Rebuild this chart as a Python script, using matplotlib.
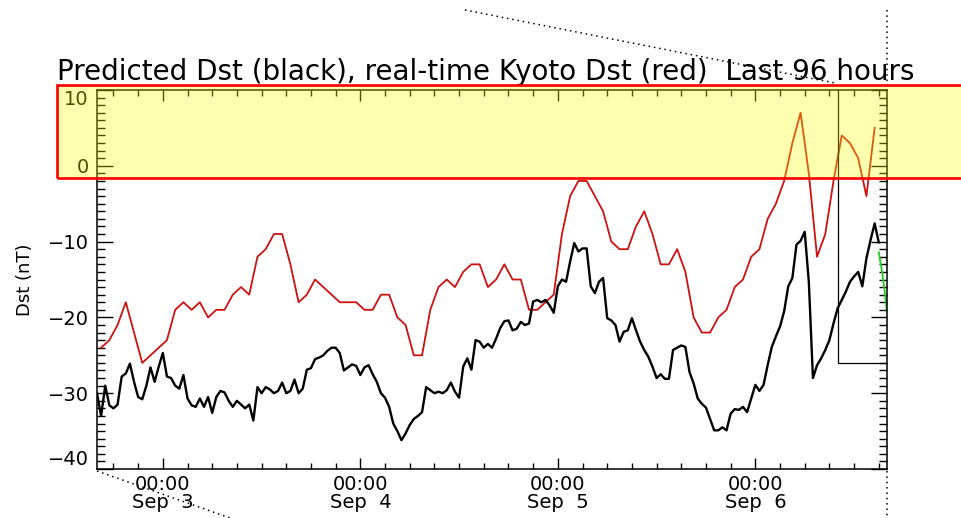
import matplotlib
matplotlib.use("Agg")
import matplotlib.pyplot as plt
import matplotlib.patches as patches
from matplotlib.lines import Line2D
from matplotlib.ticker import MultipleLocator
import numpy as np

# hours counted from Sep 2 16:00 UT, 96 hour window
window_hours = 96
midnight_hours = [8, 32, 56, 80]
midnight_labels = ["00:00\nSep  3", "00:00\nSep  4", "00:00\nSep  5", "00:00\nSep  6"]

# real-time Kyoto Dst, hourly values (nT), centred on the half hour
kyoto_dst = [
    -24, -23, -21, -18, -22, -26, -25, -24, -23, -19,
    -18, -19, -18, -20, -19, -19, -17, -16, -17, -12,
    -11, -9, -9, -13, -18, -17, -15, -16, -17, -18,
    -18, -18, -19, -19, -17, -17, -20, -21, -25, -25,
    -19, -16, -15, -16, -14, -13, -13, -16, -15, -13,
    -15, -15, -19, -19, -18, -17, -9, -4, -2, -2,
    -4, -6, -10, -11, -11, -8, -6, -9, -13, -13,
    -11, -14, -20, -22, -22, -20, -19, -16, -15, -12,
    -11, -7, -5, -2, 3, 7, -1, -12, -9, -2,
    4, 3, 1, -4, 5,
]

# predicted Dst, every half hour (nT)
predicted_dst = [
    -30, -33, -29, -31.6, -32, -31.5, -27.8, -27.4, -26.1, -28.5,
    -30.5, -30.8, -29, -26.6, -28.5, -26.5, -24.7, -27.8, -28, -29,
    -29.4, -27.6, -30.7, -31.6, -31.8, -30.7, -31.8, -30.5, -32.6, -30.5,
    -29.7, -29.9, -31, -31.8, -31, -31.5, -32, -31.5, -33.6, -29.2,
    -30, -29.2, -29.5, -30, -29.7, -28.6, -30, -29.7, -28.2, -30,
    -29.4, -26.9, -26.7, -25.5, -25.3, -25, -24.4, -24, -24, -24.7,
    -27, -26.6, -26.2, -26.4, -27.6, -26.6, -26.3, -27.5, -28.5, -30,
    -30.6, -31.8, -34, -35, -36.2, -35.3, -34.2, -33.4, -33, -32.5,
    -29.2, -29.6, -30, -29.8, -30, -29.6, -28.6, -29.8, -30.6, -26.5,
    -25.4, -26.9, -23, -23.2, -24, -23.5, -24, -22.8, -21.4, -20.5,
    -20.4, -21.7, -21.5, -20.6, -21, -20.8, -17.9, -17.7, -18, -17.7,
    -18.4, -19.4, -15.9, -15, -15.3, -12.6, -10.2, -11.3, -10.9, -10.9,
    -15.9, -16.8, -15.3, -14.8, -20.1, -20.4, -21, -23.2, -21.9, -21.7,
    -20.1, -21.7, -23.2, -24.3, -25.2, -26.5, -28, -27.5, -28.1, -28.1,
    -24.3, -24, -23.7, -23.9, -27.2, -28.7, -30.7, -31.4, -31.9, -33.4,
    -34.9, -34.9, -34.5, -34.9, -32.7, -32.1, -32.2, -31.8, -32.5, -30.7,
    -28.9, -29.7, -28.9, -26.3, -23.9, -22.5, -21.2, -19.2, -15.9, -14.8,
    -10.4, -9.9, -8.7, -15.3, -28, -26.3, -25.4, -24.3, -23, -20.8,
    -18.8, -17.7, -16.6, -15.3, -14.6, -14, -15.9, -12.2, -9.8, -7.6,
    -10.1,
]

# short-term forecast tail
forecast_hours = [95.0, 95.4, 95.7, 96.0]
forecast_dst = [-11.4, -14.0, -16.4, -19.3]

# current-time marker box
now_hour = 90
now_floor = -26

kyoto_hours = np.arange(len(kyoto_dst)) + 0.5
pred_hours = np.arange(len(predicted_dst)) * 0.5

W, H = 961, 518
fig = plt.figure(figsize=(W / 100, H / 100), dpi=100)
fig.patch.set_facecolor("white")
ax = fig.add_axes([97 / W, 1 - 469 / H, (887 - 97) / W, (469 - 90) / H])

ax.plot(kyoto_hours, kyoto_dst, color="#cc1111", lw=1.3)
ax.plot(pred_hours, predicted_dst, color="black", lw=1.7)
ax.plot(forecast_hours, forecast_dst, color="#22cc22", lw=1.3)
ax.plot([now_hour, now_hour, window_hours], [10, now_floor, now_floor],
        color="black", lw=0.9)

ax.set_xlim(0, window_hours)
ax.set_ylim(-40, 10)

ax.set_xticks(midnight_hours)
ax.set_xticklabels(midnight_labels, fontsize=14, linespacing=0.95)
ax.xaxis.set_minor_locator(MultipleLocator(3, offset=2))
ax.set_yticks([10, 0, -10, -20, -30, -40])
ax.set_yticklabels(["10", "0", "\u221210", "\u221220", "\u221230", "\u221240"], fontsize=14)
ax.yaxis.set_minor_locator(MultipleLocator(1))
ylabels = ax.get_yticklabels()
ylabels[0].set_va("top")
ylabels[-1].set_va("bottom")

ax.tick_params(which="both", direction="in", top=True, right=True, width=1.0, color="black")
ax.tick_params(axis="x", which="major", length=8, pad=4)
ax.tick_params(axis="x", which="minor", length=4.3)
ax.tick_params(axis="y", which="major", length=11.5, pad=6)
ax.tick_params(axis="y", which="minor", length=5.8)
for s in ax.spines.values():
    s.set_linewidth(1.1)

fig.text(57 / W, 1 - 80 / H,
         "Predicted Dst (black), real-time Kyoto Dst (red)  Last 96 hours",
         fontsize=20, ha="left", va="baseline")
fig.text(25 / W, 1 - 280 / H, "Dst (nT)", rotation=90, fontsize=13,
         ha="center", va="center")

# highlighted band across the top of the panel
band = patches.Rectangle((57 / W, 1 - 178.5 / H), 1.0, (178.5 - 85) / H,
                         transform=fig.transFigure, facecolor=(1, 1, 0),
                         alpha=0.31, edgecolor="none", zorder=10)
fig.add_artist(band)
frame = patches.Rectangle((57 / W, 1 - 178.5 / H), 1.0, (178.5 - 85) / H,
                          transform=fig.transFigure, facecolor="none",
                          edgecolor="red", lw=1.9, zorder=11)
fig.add_artist(frame)

# dotted guide lines
guides = [
    ([465, 835], [10, 83]),
    ([887, 887], [10, 85]),
    ([887, 887], [471, 518]),
    ([97, 230], [471, 518]),
]
for gx, gy in guides:
    fig.add_artist(Line2D([x / W for x in gx], [1 - y / H for y in gy],
                          transform=fig.transFigure, color="black", lw=1.1,
                          linestyle=(0, (1, 2.5)), zorder=12))

fig.savefig("out.png", dpi=100)
